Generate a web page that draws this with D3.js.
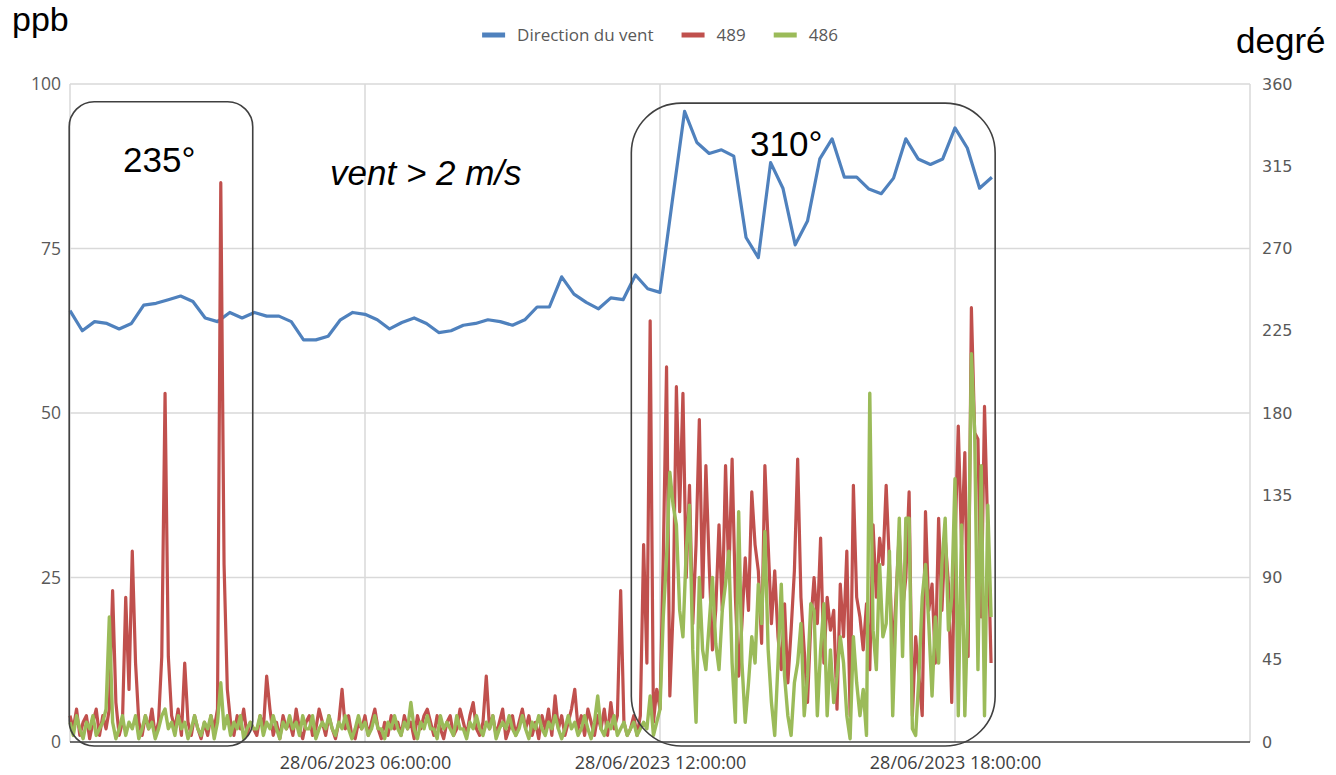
<!DOCTYPE html>
<html>
<head>
<meta charset="utf-8">
<script src="https://cdn.jsdelivr.net/npm/d3@7"></script>
<style>
  body { margin: 0; background: #fff; }
  svg { display: block; }
</style>
</head>
<body>
<div id="chart"></div>
<script>
// Record start and sampling steps
const startTime = new Date(2023, 5, 28, 0, 0, 0);
const endTime = new Date(2023, 5, 29, 0, 0, 0);
const windStepMinutes = 15;
const gasStepMinutes = 4;

// Direction du vent (degré), one value every 15 min
const windDirection = [
    236, 225, 230, 229, 226, 229, 239, 240, 242, 244,
    241, 232, 230, 235, 232, 235, 233, 233, 230, 220,
    220, 222, 231, 235, 234, 231, 226, 229.5, 232, 229,
    224, 225, 228, 229, 231, 230, 228, 231, 238, 238,
    254.5, 245, 240.5, 237, 243, 242, 255.5, 248, 246, 296,
    345, 328, 322, 324, 320.5, 276, 265, 317, 303, 272,
    285, 319, 330, 309, 309, 302.5, 300, 308.5, 330, 319,
    316, 319, 336, 325, 303, 309
];

// 489 (ppb), one value every 4 min
const values489 = [
    4, 2, 5, 1, 3, 4, 0.5, 3, 5, 1,
    4, 2, 5, 23, 6, 1, 3, 22, 8, 29,
    12, 3, 1, 4, 2, 5, 1, 3, 13, 53,
    13, 4, 2, 5, 1, 12, 3, 1, 4, 2,
    0.5, 3, 1, 4, 2, 5, 85, 27, 8, 3,
    1, 4, 2, 5, 1, 3, 2, 1, 4, 2,
    10, 5, 1, 3, 0.5, 4, 2, 3, 1, 5,
    2, 0.5, 3, 4, 1, 2, 5, 3, 1, 4,
    2, 0.5, 3, 8, 2, 4, 1, 0.5, 3, 2,
    4, 1, 3, 5, 2, 0.5, 3, 1, 4, 2,
    3, 1, 4, 2, 3, 0.5, 4, 2, 4, 5,
    3, 1, 4, 2, 0.5, 3, 4, 1, 2, 5,
    3, 1, 4, 6, 2, 1, 3, 10, 2, 4,
    1, 3, 5, 0.5, 2, 4, 1, 3, 5, 2,
    4, 1, 3, 0.5, 4, 2, 5, 1, 7, 2,
    4, 1, 3, 5, 8, 2, 4, 1, 5, 3,
    1, 4, 2, 5, 1, 6, 2, 4, 23, 3,
    1, 2, 4, 1, 4, 30, 12, 64, 3, 8,
    5, 28, 57, 7, 20, 54, 35, 53, 25, 39,
    18, 30, 49, 22, 42, 27, 14, 20, 33, 20,
    42, 25, 43, 22, 10, 18, 28, 20, 38, 30,
    26, 15, 42, 30, 18, 26, 16, 11, 21, 9,
    17, 26, 43, 22, 14, 6, 18, 25, 18, 31,
    12, 22, 17, 20, 5, 24, 16, 29, 4, 39,
    22, 19, 14, 21, 11, 33, 22, 31, 27, 39,
    27, 13, 22, 32, 20, 25, 38, 4, 16, 10,
    4, 35, 20, 24, 12, 34, 20, 31, 24, 6,
    30, 48, 30, 44, 13, 66, 47, 46, 19, 51,
    32, 12
];

// 486 (ppb), one value every 4 min
const values486 = [
    3, 1, 4, 2, 0.5, 3, 2, 4, 1, 2,
    3, 5, 19, 3, 0.5, 2, 4, 1, 3, 2,
    4, 0.5, 2, 4, 2, 3, 0.5, 2, 4, 5,
    2, 3, 1, 4, 2, 3, 0.5, 2, 4, 2,
    1, 3, 2, 4, 0.5, 3, 9, 2, 4, 1,
    3, 2, 4, 0.5, 2, 3, 2, 2, 4, 1,
    3, 2, 4, 2, 0.5, 3, 2, 4, 2, 3,
    1, 4, 2, 2, 4, 0.5, 2, 3, 2, 4,
    2, 1, 3, 2, 4, 2, 0.5, 2, 4, 2,
    3, 1, 2, 4, 2, 2, 0.5, 3, 2, 4,
    2, 1, 3, 2, 6, 2, 0.5, 3, 2, 4,
    2, 2, 0.5, 4, 2, 3, 2, 1, 4, 2,
    2, 0.5, 3, 2, 4, 2, 1, 3, 2, 4,
    0.5, 2, 3, 2, 4, 2, 1, 2, 4, 2,
    0.5, 3, 2, 4, 2, 1, 3, 2, 4, 2,
    0.5, 2, 4, 2, 3, 1, 2, 4, 2, 0.5,
    3, 7, 2, 1, 3, 2, 4, 1, 2, 3,
    1, 2, 3, 1, 2, 3, 2, 7, 1, 3,
    5, 19, 28, 41, 36, 33, 20, 16, 29, 36,
    14, 3, 25, 14, 11, 18, 25, 15, 11, 20,
    24, 29, 12, 3, 35, 12, 3, 9, 16, 12,
    24, 18, 32, 14, 6, 1, 12, 24, 10, 4,
    1, 9, 12, 18, 4, 10, 21, 20, 4, 14,
    21, 4, 14, 6, 10, 16, 12, 4, 0.5, 16,
    9, 4, 8, 1, 53, 17, 11, 27, 16, 18,
    29, 4, 20, 34, 13, 34, 34, 2, 1, 10,
    22, 27, 18, 7, 19, 12, 27, 34, 17, 22,
    40, 4, 33, 4, 22, 59, 47, 11, 42, 4,
    36, 19
];

// Axis ticks
const ppbTicks = [0, 25, 50, 75, 100];
const degreeTicks = [0, 45, 90, 135, 180, 225, 270, 315, 360];
const timeTicks = [
    new Date(2023, 5, 28, 6, 0, 0),
    new Date(2023, 5, 28, 12, 0, 0),
    new Date(2023, 5, 28, 18, 0, 0)
];
const seriesNames = ["Direction du vent", "489", "486"];
const seriesColors = ["#4f81bd", "#c0504d", "#9bbb59"];

// Dimensions
const margin = { top: 84, right: 86, bottom: 33, left: 70 };
const width = 1336 - margin.left - margin.right;
const height = 775 - margin.top - margin.bottom;

const svg = d3.select("#chart")
    .append("svg")
    .attr("width", 1336)
    .attr("height", 775);

const g = svg.append("g")
    .attr("transform", "translate(" + margin.left + "," + margin.top + ")");

// Scales
const xScale = d3.scaleTime()
    .domain([startTime, endTime])
    .range([0, width]);

const yLeft = d3.scaleLinear()
    .domain([0, 100])
    .range([height, 0]);

const yRight = d3.scaleLinear()
    .domain([0, 360])
    .range([height, 0]);

// Gridlines
g.append("g")
    .selectAll("line")
    .data(ppbTicks.slice(1))
    .enter()
    .append("line")
    .attr("x1", 0)
    .attr("x2", width)
    .attr("y1", d => yLeft(d))
    .attr("y2", d => yLeft(d))
    .attr("stroke", "#d9d9d9")
    .attr("stroke-width", 1.5);

g.append("g")
    .selectAll("line")
    .data([startTime].concat(timeTicks, [endTime]))
    .enter()
    .append("line")
    .attr("x1", d => xScale(d))
    .attr("x2", d => xScale(d))
    .attr("y1", 0)
    .attr("y2", height)
    .attr("stroke", "#d9d9d9")
    .attr("stroke-width", 1.5);

// Axes
const leftAxis = g.append("g")
    .call(d3.axisLeft(yLeft).tickValues(ppbTicks).tickSize(0).tickPadding(9));
leftAxis.select(".domain").remove();
leftAxis.selectAll("text")
    .attr("fill", "#595959")
    .style("font-family", "'Open Sans', sans-serif")
    .style("font-size", "17.5px");

const rightAxis = g.append("g")
    .attr("transform", "translate(" + width + ",0)")
    .call(d3.axisRight(yRight).tickValues(degreeTicks).tickSize(0).tickPadding(12));
rightAxis.select(".domain").remove();
rightAxis.selectAll("text")
    .attr("fill", "#595959")
    .style("font-family", "'DejaVu Sans', sans-serif")
    .style("font-size", "16px");

const bottomAxis = g.append("g")
    .attr("transform", "translate(0," + height + ")")
    .call(d3.axisBottom(xScale)
        .tickValues(timeTicks)
        .tickFormat(d3.timeFormat("%d/%m/%Y %H:%M:%S"))
        .tickSize(0)
        .tickPadding(14));
bottomAxis.select(".domain").remove();
bottomAxis.selectAll("text")
    .attr("fill", "#404040")
    .style("font-family", "'Open Sans', sans-serif")
    .style("font-size", "18px");

g.append("line")
    .attr("x1", 0)
    .attr("x2", width)
    .attr("y1", height)
    .attr("y2", height)
    .attr("stroke", "#404040")
    .attr("stroke-width", 1.5);

// Series as time/value points
const windPoints = windDirection.map((v, i) => ({ time: d3.timeMinute.offset(startTime, i * windStepMinutes), value: v }));
const points489 = values489.map((v, i) => ({ time: d3.timeMinute.offset(startTime, i * gasStepMinutes), value: v }));
const points486 = values486.map((v, i) => ({ time: d3.timeMinute.offset(startTime, i * gasStepMinutes), value: v }));

const lineRight = d3.line()
    .x(d => xScale(d.time))
    .y(d => yRight(d.value));

const lineLeft = d3.line()
    .x(d => xScale(d.time))
    .y(d => yLeft(d.value));

g.append("path")
    .datum(windPoints)
    .attr("fill", "none")
    .attr("stroke", seriesColors[0])
    .attr("stroke-width", 3.2)
    .attr("stroke-linejoin", "round")
    .attr("d", lineRight);

g.append("path")
    .datum(points489)
    .attr("fill", "none")
    .attr("stroke", seriesColors[1])
    .attr("stroke-width", 3.2)
    .attr("stroke-linejoin", "round")
    .attr("d", lineLeft);

g.append("path")
    .datum(points486)
    .attr("fill", "none")
    .attr("stroke", seriesColors[2])
    .attr("stroke-width", 3.4)
    .attr("stroke-linejoin", "round")
    .attr("d", lineLeft);

// Annotation boxes (time span, ppb top)
const boxes = [
    { from: new Date(2023, 5, 27, 23, 59), to: new Date(2023, 5, 28, 3, 43), top: 97.3, r: 25 },
    { from: new Date(2023, 5, 28, 11, 25), to: new Date(2023, 5, 28, 18, 49), top: 97.1, r: 50 }
];
g.selectAll(".box")
    .data(boxes)
    .enter()
    .append("rect")
    .attr("class", "box")
    .attr("x", d => xScale(d.from))
    .attr("y", d => yLeft(d.top))
    .attr("width", d => xScale(d.to) - xScale(d.from))
    .attr("height", d => yLeft(-0.6) - yLeft(d.top))
    .attr("rx", d => d.r)
    .attr("ry", d => d.r)
    .attr("fill", "none")
    .attr("stroke", "#404040")
    .attr("stroke-width", 1.6);

// Annotation texts
const bigFont = "'Liberation Sans', Arial, sans-serif";
svg.append("text").attr("x", 123).attr("y", 172).text("235°")
    .style("font-family", bigFont).style("font-size", "35px").attr("fill", "#000");
svg.append("text").attr("x", 750).attr("y", 156).text("310°")
    .style("font-family", bigFont).style("font-size", "35px").attr("fill", "#000");
svg.append("text").attr("x", 330).attr("y", 185).text("vent > 2 m/s")
    .style("font-family", bigFont).style("font-size", "35px").style("font-style", "italic").attr("fill", "#000");
svg.append("text").attr("x", 12).attr("y", 31).text("ppb")
    .style("font-family", bigFont).style("font-size", "34px").attr("fill", "#000");
svg.append("text").attr("x", 1236).attr("y", 53).text("degré")
    .style("font-family", bigFont).style("font-size", "35px").attr("fill", "#000");

// Legend, centred over the plot
const legend = svg.append("g");
let lx = 0;
seriesNames.forEach((name, i) => {
    const item = legend.append("g").attr("transform", "translate(" + lx + ",0)");
    item.append("rect")
        .attr("x", 0)
        .attr("y", -2.5)
        .attr("width", 23)
        .attr("height", 5)
        .attr("fill", seriesColors[i]);
    const t = item.append("text")
        .attr("x", 35)
        .attr("y", 0)
        .attr("dy", "0.35em")
        .attr("fill", "#595959")
        .style("font-family", "'Open Sans', sans-serif")
        .style("font-size", "17px")
        .text(name);
    lx += 35 + t.node().getComputedTextLength() + 28;
});
const legendWidth = lx - 28;
legend.attr("transform", "translate(" + (margin.left + width / 2 - legendWidth / 2) + ",35)");
</script>
</body>
</html>
